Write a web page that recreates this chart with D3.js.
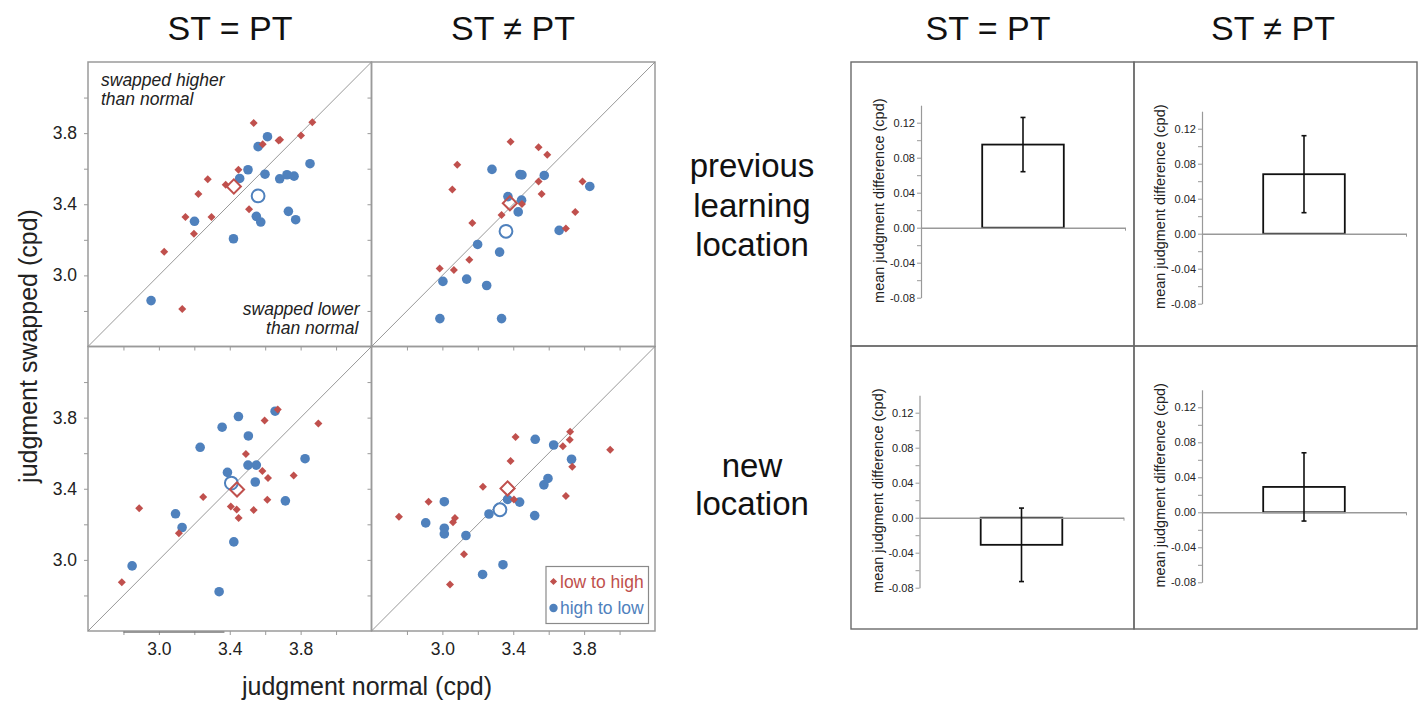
<!DOCTYPE html>
<html><head><meta charset="utf-8">
<script src="https://cdn.jsdelivr.net/npm/d3@7"></script>
<style>
body{margin:0;background:#fff}
svg{display:block}
text{font-family:"Liberation Sans",Arial,Helvetica,sans-serif}
</style>
</head><body>
<svg id="c" width="1423" height="702"></svg>
<script>
// ---------- DATA ----------
const conditions = ["ST = PT", "ST \u2260 PT"];
const locationLines = [["previous", "learning", "location"], ["new", "location"]];
const seriesNames = ["low to high", "high to low"];
const scatterDomain = [2.6, 4.2];
const scatterTicks = [2.8, 3.0, 3.2, 3.4, 3.6, 3.8, 4.0];
const scatterTickLabels = ["3.0", "3.4", "3.8"];

// previous learning location, ST = PT
const prevSameLowHigh = [[3.535,3.857],[3.866,3.861],[3.802,3.786],[3.676,3.759],[3.684,3.763],[3.586,3.737],[3.449,3.594],[3.276,3.541],[3.377,3.509],[3.223,3.458],[3.150,3.329],[3.297,3.329],[3.198,3.234],[3.509,3.372],[3.030,3.133],[3.132,2.811]];
const prevSameHighLow = [[3.613,3.780],[3.560,3.724],[3.503,3.594],[3.456,3.545],[3.599,3.569],[3.682,3.543],[3.723,3.566],[3.763,3.558],[3.853,3.628],[3.550,3.332],[3.575,3.300],[3.731,3.360],[3.772,3.313],[3.201,3.304],[3.421,3.206],[2.956,2.858]];
// previous learning location, ST != PT
const prevDiffLowHigh = [[3.385,3.752],[3.543,3.721],[3.592,3.678],[3.084,3.622],[3.056,3.483],[3.543,3.528],[3.560,3.458],[3.791,3.528],[3.449,3.402],[3.334,3.340],[3.750,3.357],[3.169,3.295],[3.697,3.263],[3.152,3.088],[2.985,3.039],[3.065,3.030]];
const prevDiffHighLow = [[3.280,3.596],[3.438,3.567],[3.449,3.565],[3.575,3.562],[3.832,3.500],[3.370,3.443],[3.447,3.423],[3.428,3.357],[3.659,3.253],[3.199,3.174],[3.323,3.131],[3.003,2.966],[3.137,2.979],[3.250,2.943],[2.986,2.757],[3.334,2.757]];
// new location, ST = PT
const newSameLowHigh = [[3.671,3.846],[3.597,3.784],[3.900,3.767],[3.491,3.596],[3.584,3.500],[3.616,3.460],[3.761,3.475],[3.250,3.353],[3.612,3.338],[3.406,3.300],[3.439,3.283],[3.535,3.280],[3.450,3.235],[2.889,3.291],[3.113,3.150],[2.791,2.874]];
const newSameHighLow = [[3.656,3.836],[3.449,3.806],[3.357,3.746],[3.505,3.697],[3.233,3.633],[3.503,3.533],[3.550,3.533],[3.825,3.569],[3.387,3.492],[3.544,3.438],[3.714,3.332],[3.094,3.259],[3.131,3.182],[3.423,3.101],[2.849,2.966],[3.340,2.821]];
// new location, ST != PT
const newDiffLowHigh = [[3.721,3.720],[3.719,3.676],[3.680,3.639],[3.413,3.691],[3.947,3.620],[3.385,3.556],[3.733,3.524],[3.229,3.411],[3.697,3.359],[3.404,3.340],[2.922,3.327],[2.755,3.242],[3.071,3.235],[3.060,3.212],[3.122,3.032],[3.043,2.862]];
const newDiffHighLow = [[3.524,3.678],[3.628,3.646],[3.729,3.566],[3.596,3.458],[3.573,3.422],[3.368,3.340],[3.436,3.325],[3.011,3.327],[3.263,3.258],[3.521,3.249],[2.906,3.208],[3.011,3.178],[3.011,3.146],[3.133,3.137],[3.342,2.973],[3.227,2.918]];

// group means [normal, swapped] per panel: prevSame, prevDiff, newSame, newDiff
const meanLowHigh = [[3.423,3.500],[3.381,3.406],[3.441,3.396],[3.368,3.402]];
const meanHighLow = [[3.560,3.447],[3.359,3.248],[3.409,3.432],[3.325,3.282]];

// bar charts: prevSame, prevDiff, newSame, newDiff
const barMeans  = [0.095, 0.068, -0.031, 0.029];
const barErrors = [0.031, 0.044, 0.042, 0.039];
const barDomain = [-0.08, 0.14];
const barTicks = [-0.08, -0.06, -0.04, -0.02, 0.00, 0.02, 0.04, 0.06, 0.08, 0.10, 0.12];
const barTickLabels = ["-0.08", "-0.04", "0.00", "0.04", "0.08", "0.12"];

// ---------- DRAW ----------
const RED = "#C0504D", BLUE = "#4F81BD", TXT = "#222";
const svg = d3.select("#c");

const scatterPanels = [
  [[prevSameLowHigh, prevSameHighLow], [prevDiffLowHigh, prevDiffHighLow]],
  [[newSameLowHigh, newSameHighLow], [newDiffLowHigh, newDiffHighLow]]
];
const SX0 = [88, 371.5], SY0 = [62, 346.5], SPW = 283.5, SPH = 284.5;

const fmtTick = d => d.toFixed(1);

for (let r = 0; r < 2; r++) {
  for (let c = 0; c < 2; c++) {
    const idx = r * 2 + c;
    const g = svg.append("g").attr("transform", `translate(${SX0[c]},${SY0[r]})`);
    const x = d3.scaleLinear().domain(scatterDomain).range([0, SPW]);
    const y = d3.scaleLinear().domain(scatterDomain).range([SPH, 0]);

    g.append("rect").attr("x", 0).attr("y", 0).attr("width", SPW).attr("height", SPH)
      .attr("fill", "none").attr("stroke", "#9a9a9a").attr("stroke-width", 1.5);

    g.append("line")
      .attr("x1", x(scatterDomain[0])).attr("y1", y(scatterDomain[0]))
      .attr("x2", x(scatterDomain[1])).attr("y2", y(scatterDomain[1]))
      .attr("stroke", "#8c8c8c").attr("stroke-width", 0.9);

    const ay = g.append("g").call(d3.axisLeft(y).tickValues(scatterTicks).tickSize(4).tickPadding(7)
      .tickFormat(d => (c === 0 && scatterTickLabels.includes(fmtTick(d))) ? fmtTick(d) : ""));
    const ax = g.append("g").attr("transform", `translate(0,${SPH})`)
      .call(d3.axisBottom(x).tickValues(scatterTicks).tickSize(4).tickPadding(8)
      .tickFormat(d => (r === 1 && scatterTickLabels.includes(fmtTick(d))) ? fmtTick(d) : ""));
    [ay, ax].forEach(a => {
      a.select(".domain").remove();
      a.selectAll(".tick line").attr("stroke", "#9a9a9a").attr("stroke-width", 1);
      a.selectAll(".tick text").attr("fill", TXT).style("font-size", "17.5px")
        .style("font-family", '"Liberation Sans",Arial,sans-serif');
    });

    const [lowHigh, highLow] = scatterPanels[r][c];
    g.append("g").selectAll("circle").data(highLow).join("circle")
      .attr("cx", d => x(d[0])).attr("cy", d => y(d[1])).attr("r", 4.8).attr("fill", BLUE);
    const dia = d3.symbol().type(d3.symbolSquare).size(32);
    g.append("g").selectAll("path").data(lowHigh).join("path")
      .attr("d", dia).attr("fill", RED)
      .attr("transform", d => `translate(${x(d[0])},${y(d[1])}) rotate(45)`);

    const mh = meanHighLow[idx], ml = meanLowHigh[idx];
    g.append("circle").attr("cx", x(mh[0])).attr("cy", y(mh[1])).attr("r", 6.4)
      .attr("fill", "none").attr("stroke", BLUE).attr("stroke-width", 2);
    g.append("path").attr("d", d3.symbol().type(d3.symbolSquare).size(100)())
      .attr("fill", "none").attr("stroke", RED).attr("stroke-width", 2)
      .attr("transform", `translate(${x(ml[0])},${y(ml[1])}) rotate(45)`);

    if (idx === 0) {
      const t1 = g.append("text").attr("x", 13).attr("y", 24).attr("fill", TXT)
        .style("font-size", "17.5px").style("font-style", "italic");
      t1.append("tspan").attr("x", 13).attr("dy", 0).text("swapped higher");
      t1.append("tspan").attr("x", 13).attr("dy", 18.5).text("than normal");
      const t2 = g.append("text").attr("y", 253).attr("fill", TXT).attr("text-anchor", "end")
        .style("font-size", "17.5px").style("font-style", "italic");
      t2.append("tspan").attr("x", 271.5).attr("dy", 0).text("swapped lower");
      t2.append("tspan").attr("x", 270.5).attr("dy", 19).text("than normal");
    }
    if (idx === 2) {
      g.append("line").attr("x1", x(2.8)).attr("x2", x(3.37)).attr("y1", SPH + 1.2).attr("y2", SPH + 1.2)
        .attr("stroke", "#777").attr("stroke-width", 1.2);
    }
    if (idx === 3) {
      const lg = g.append("g").attr("transform", "translate(174.5,220)");
      lg.append("rect").attr("width", 102.5).attr("height", 57).attr("fill", "#fff")
        .attr("stroke", "#8a8a8a").attr("stroke-width", 1.2);
      lg.append("path").attr("d", d3.symbol().type(d3.symbolSquare).size(26)())
        .attr("fill", RED).attr("transform", "translate(7.5,15) rotate(45)");
      lg.append("text").attr("x", 14).attr("y", 21).attr("fill", RED).style("font-size", "17.5px").text(seriesNames[0]);
      lg.append("circle").attr("cx", 7.5).attr("cy", 41.5).attr("r", 4.2).attr("fill", BLUE);
      lg.append("text").attr("x", 14).attr("y", 47.5).attr("fill", BLUE).style("font-size", "17.5px").text(seriesNames[1]);
    }
  }
}

// axis titles (scatter)
svg.append("text").attr("transform", "translate(37,346) rotate(-90)").attr("text-anchor", "middle")
  .attr("fill", TXT).style("font-size", "25px").text("judgment swapped (cpd)");
svg.append("text").attr("x", 367).attr("y", 695).attr("text-anchor", "middle")
  .attr("fill", TXT).style("font-size", "25px").text("judgment normal (cpd)");

// column titles
const titleX = [230, 513, 988, 1273];
titleX.forEach((tx, i) => {
  svg.append("text").attr("x", tx).attr("y", 40).attr("text-anchor", "middle")
    .attr("fill", "#111").style("font-size", "34px").text(conditions[i % 2]);
});

// row labels
const rowBase = [[177, 217, 256], [477, 515]];
locationLines.forEach((lines, i) => {
  lines.forEach((ln, j) => {
    svg.append("text").attr("x", 752).attr("y", rowBase[i][j]).attr("text-anchor", "middle")
      .attr("fill", "#111").style("font-size", "33px").text(ln);
  });
});

// bar panels
const BX0 = [851, 1134], BY0 = [62, 346], BW = 283, BH = [284, 283];
const barAxisPos = [[921, 227.7], [1202, 233.7], [919.5, 517.7], [1202, 512.3]];
const fmtBar = d => { const v = Math.round(d * 100) / 100; return (v < 0 ? "-" : "") + Math.abs(v).toFixed(2); };
const BAR_SPAN = 204, UNIT = 875;

for (let r = 0; r < 2; r++) {
  for (let c = 0; c < 2; c++) {
    const idx = r * 2 + c;
    svg.append("rect").attr("x", BX0[c]).attr("y", BY0[r]).attr("width", BW).attr("height", BH[r])
      .attr("fill", "none").attr("stroke", "#6a6a6a").attr("stroke-width", 1.4);
    const [axX, zeroY] = barAxisPos[idx];
    const g = svg.append("g").attr("transform", `translate(${axX},0)`);
    const y = d3.scaleLinear().domain(barDomain)
      .range([zeroY - barDomain[0] * UNIT, zeroY - barDomain[1] * UNIT]);
    const xb = d3.scaleBand().domain([conditions[c]]).range([0, BAR_SPAN]).paddingInner(0.6).paddingOuter(0.3);
    const xl = d3.scaleLinear().domain([0, 1]).range([0, BAR_SPAN]);

    const ay = g.append("g").call(d3.axisLeft(y).tickValues(barTicks).tickSize(4).tickSizeOuter(0).tickPadding(2)
      .tickFormat(d => barTickLabels.includes(fmtBar(d)) ? fmtBar(d) : ""));
    ay.select(".domain").attr("stroke", "#999").attr("stroke-width", 1.2);
    ay.selectAll(".tick line").attr("stroke", "#999");
    ay.selectAll(".tick text").attr("fill", TXT).style("font-size", "11px")
      .style("font-family", '"Liberation Sans",Arial,sans-serif');

    const m = barMeans[idx], e = barErrors[idx];
    g.append("rect").attr("x", xb(conditions[c])).attr("width", xb.bandwidth())
      .attr("y", y(Math.max(0, m))).attr("height", Math.abs(y(m) - y(0)))
      .attr("fill", "#fff").attr("stroke", "#111").attr("stroke-width", 1.8);

    const axb = g.append("g").attr("transform", `translate(0,${y(0)})`)
      .call(d3.axisBottom(xl).tickValues([1]).tickSize(3).tickSizeOuter(0).tickFormat(""));
    axb.select(".domain").attr("stroke", "#999").attr("stroke-width", 1.6);
    axb.selectAll(".tick line").attr("stroke", "#999");

    const cx = xb(conditions[c]) + xb.bandwidth() / 2;
    g.append("line").attr("x1", cx).attr("x2", cx).attr("y1", y(m - e)).attr("y2", y(m + e))
      .attr("stroke", "#111").attr("stroke-width", 1.6);
    [m - e, m + e].forEach(v => {
      g.append("line").attr("x1", cx - 2.5).attr("x2", cx + 2.5).attr("y1", y(v)).attr("y2", y(v))
        .attr("stroke", "#111").attr("stroke-width", 1.6);
    });

    svg.append("text").attr("transform", `translate(${axX - 37},${zeroY - 27}) rotate(-90)`)
      .attr("text-anchor", "middle").attr("fill", TXT).style("font-size", "14.5px")
      .text("mean judgment difference (cpd)");
  }
}
</script>
</body></html>
